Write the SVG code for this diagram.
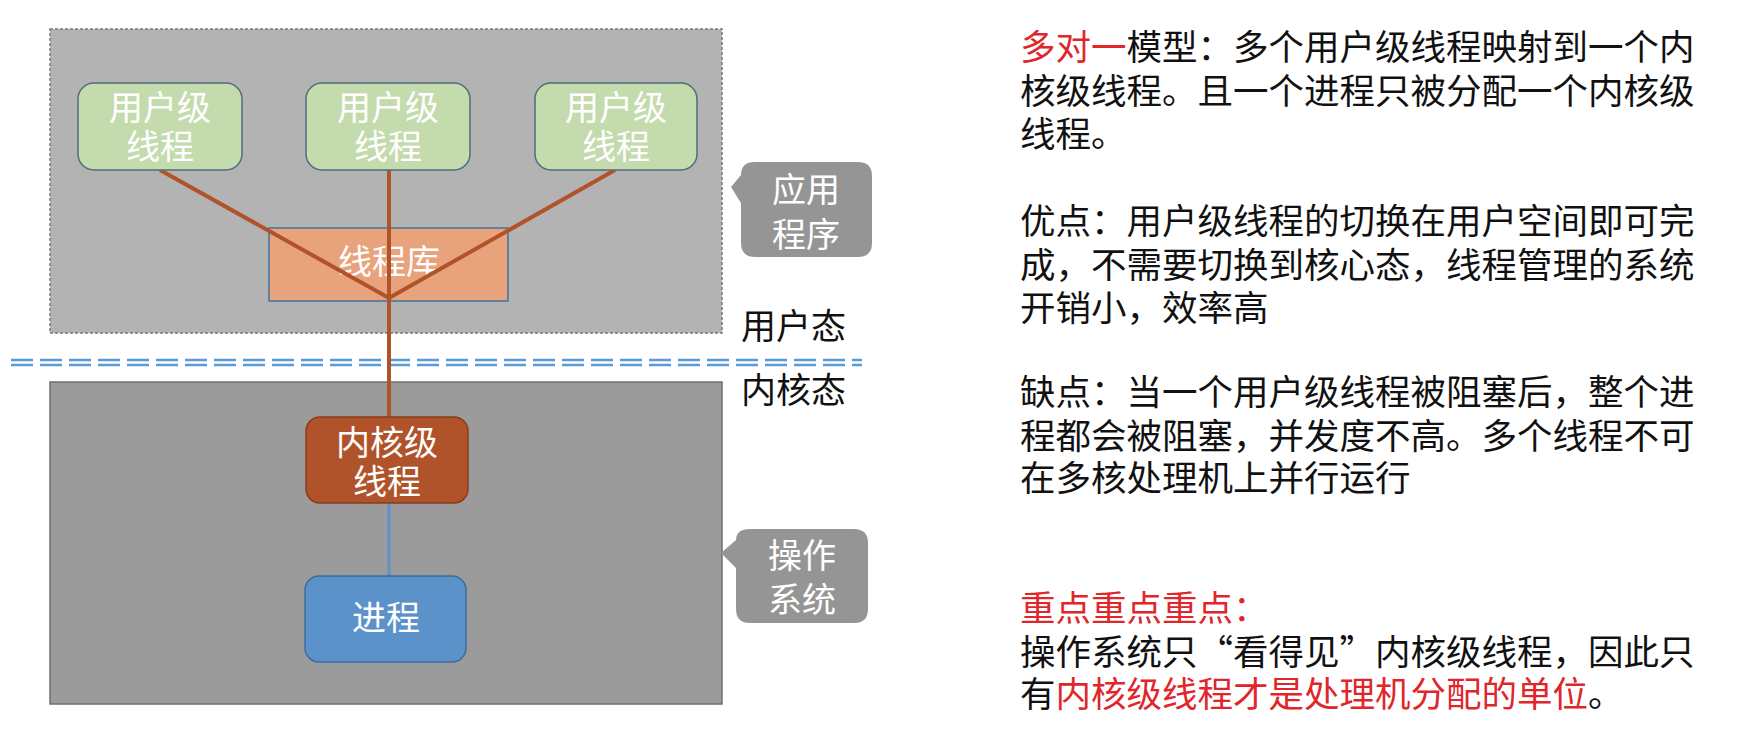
<svg xmlns="http://www.w3.org/2000/svg" width="1753" height="736" viewBox="0 0 1753 736">
<style>
text { font-family: "Noto Sans CJK SC", "Noto Sans", sans-serif; }
.wt { fill: #ffffff; font-size: 34px; text-anchor: middle; }
.ct { fill: #ffffff; font-size: 34px; text-anchor: middle; }
.bt { fill: #111111; font-size: 35.5px; }
.lab { fill: #111111; font-size: 35px; }
.red { fill: #e0262b; }
.ut { fill: #c4dbae; stroke: #4f6d7a; stroke-width: 1.5; }
.callout { fill: #959595; }
.brown { stroke: #b0532a; stroke-width: 4; fill: none; }
</style>
<rect width="1753" height="736" fill="#ffffff"/>
<g id="app-area">
<rect x="50" y="29" width="672" height="304" fill="#b3b3b3" stroke="#7a7a7a" stroke-width="1.5" stroke-dasharray="3 2"/>
</g>
<g id="os-area">
<rect x="50" y="382" width="672" height="322" fill="#9b9b9b" stroke="#6f6f6f" stroke-width="1.5"/>
</g>
<g id="boundary">
<line x1="11" y1="360" x2="862" y2="360" stroke="#5b9bd5" stroke-width="2.5" stroke-dasharray="22 7"/>
<line x1="11" y1="365" x2="862" y2="365" stroke="#5b9bd5" stroke-width="2.5" stroke-dasharray="22 7"/>
</g>
<g id="thread-lib">
<rect x="269" y="228" width="239" height="73" fill="#e9a37c" stroke="#41719c" stroke-width="1.5"/>
<text class="wt" x="389" y="274">线程库</text>
</g>
<g id="connectors">
<line class="brown" x1="160" y1="170" x2="389" y2="298"/>
<line class="brown" x1="389" y1="170" x2="389" y2="417"/>
<line class="brown" x1="615" y1="170" x2="389" y2="298"/>
<line x1="389" y1="503" x2="389" y2="576" stroke="#5b92ca" stroke-width="3"/>
</g>
<g id="user-thread-1">
<rect class="ut" x="78" y="83" width="164" height="87" rx="16"/>
<text class="wt" x="160" y="120">用户级<tspan x="160" dy="39">线程</tspan></text>
</g>
<g id="user-thread-2">
<rect class="ut" x="306" y="83" width="164" height="87" rx="16"/>
<text class="wt" x="388" y="120">用户级<tspan x="388" dy="39">线程</tspan></text>
</g>
<g id="user-thread-3">
<rect class="ut" x="535" y="83" width="162" height="87" rx="16"/>
<text class="wt" x="616" y="120">用户级<tspan x="616" dy="39">线程</tspan></text>
</g>
<g id="kernel-thread">
<rect x="306" y="417" width="162" height="86" rx="14" fill="#b0532a" stroke="#8a3c1c" stroke-width="1.5"/>
<text class="wt" x="387" y="455">内核级<tspan x="387" dy="39">线程</tspan></text>
</g>
<g id="process">
<rect x="305" y="576" width="161" height="86" rx="14" fill="#5b92ca" stroke="#3e6c9c" stroke-width="1.5"/>
<text class="wt" x="386" y="630">进程</text>
</g>
<g id="callout-app">
<path class="callout" d="M755 162 H858 Q872 162 872 176 V243 Q872 257 858 257 H755 Q741 257 741 243 V203 L731 187 L741 175 Q741 162 755 162 Z"/>
<text class="ct" x="806" y="202">应用<tspan x="806" dy="45">程序</tspan></text>
</g>
<g id="callout-os">
<path class="callout" d="M750 529 H854 Q868 529 868 543 V609 Q868 623 854 623 H750 Q736 623 736 609 V568 L721 553 L736 540 Q736 529 750 529 Z"/>
<text class="ct" x="802" y="568">操作<tspan x="802" dy="44">系统</tspan></text>
</g>
<g id="mode-labels">
<text class="lab" x="741" y="339">用户态</text>
<text class="lab" x="741" y="403">内核态</text>
</g>
<g id="notes" lang="zh-CN">
<text class="bt" x="1020" y="60"><tspan class="red">多对一</tspan>模型：多个用户级线程映射到一个内</text>
<text class="bt" x="1020" y="104">核级线程。且一个进程只被分配一个内核级</text>
<text class="bt" x="1020" y="147">线程。</text>
<text class="bt" x="1020" y="234">优点：用户级线程的切换在用户空间即可完</text>
<text class="bt" x="1020" y="278">成，不需要切换到核心态，线程管理的系统</text>
<text class="bt" x="1020" y="321">开销小，效率高</text>
<text class="bt" x="1020" y="405">缺点：当一个用户级线程被阻塞后，整个进</text>
<text class="bt" x="1020" y="449">程都会被阻塞，并发度不高。多个线程不可</text>
<text class="bt" x="1020" y="491">在多核处理机上并行运行</text>
<text class="bt red" x="1020" y="621">重点重点重点：</text>
<text class="bt" x="1020" y="665">操作系统只“看得见”内核级线程，因此只</text>
<text class="bt" x="1020" y="707">有<tspan class="red">内核级线程才是处理机分配的单位</tspan>。</text>
</g>
</svg>
